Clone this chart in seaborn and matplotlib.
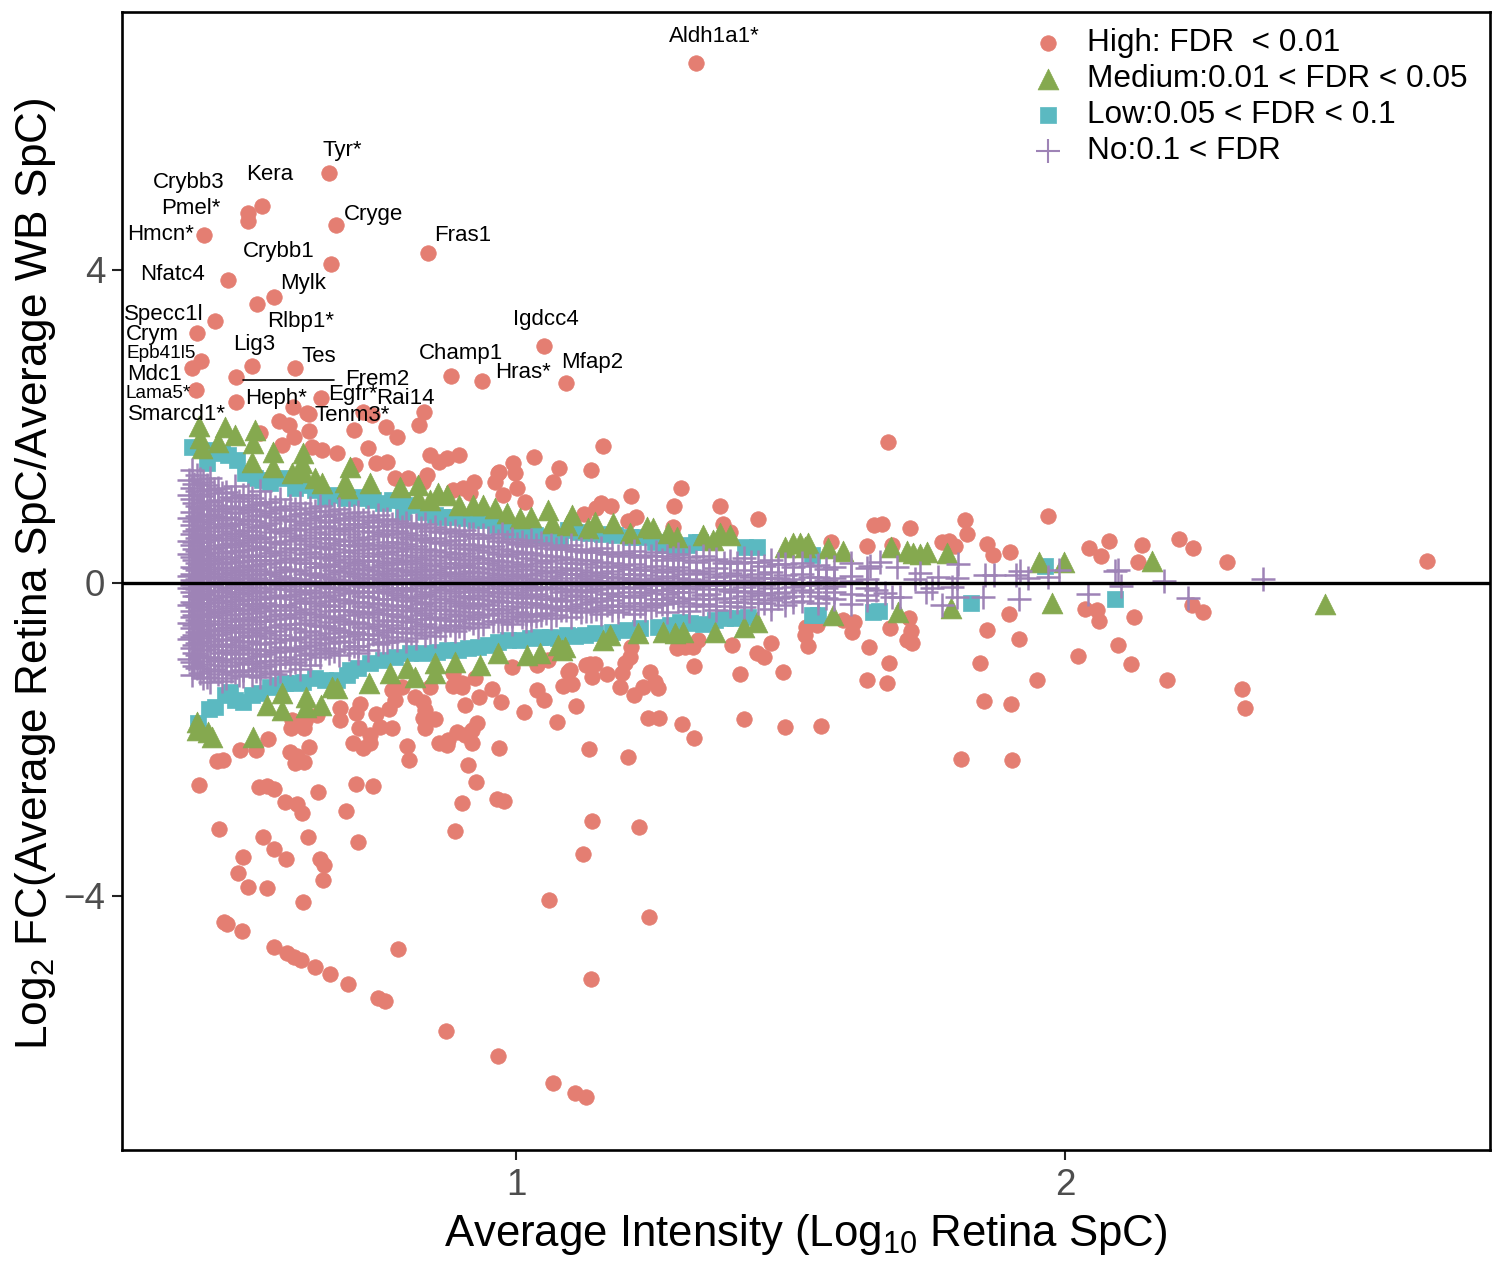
import pandas as pd
import matplotlib.pyplot as plt
import seaborn as sns

# values: x = log10 retina SpC, y = log2 FC
high_x = [1.328,.659,.537,.512,.512,.672,.432,.840,.663,.475,.559,.528,.452,.419,.426,.410,.417,.519,.597,.490,.490,1.051,.882,.938,1.091,.645,.594,.619,.623,.721,.738,.832,.823,.763,.783,.705,.623,.568,.587,.596,.574,.534,.730,.674,.647,.628,1.158,1.033,.843,.896,.874,.860,.765,.745,.707,.995,.969,1.078,1.137,1.067,.780,.803,.838,.831,.967,.998,.962,1.002,.976,1.016,.924,.904,.916,.885,1.301,1.209,1.288,1.372,1.441,1.155,1.173,1.146,1.124,1.204,1.219,1.377,1.390,1.286,1.652,1.667,1.718,1.574,1.639,1.685,1.776,1.789,1.800,1.678,1.818,1.822,1.969,1.858,1.869,1.900,2.044,2.066,2.080,2.140,2.133,2.208,2.233,2.295,2.659,
    1.528,1.548,1.526,1.532,1.596,1.616,1.612,1.681,1.716,1.719,1.712,1.721,1.643,1.679,1.639,1.676,1.393,1.464,1.439,1.452,1.486,1.408,1.324,1.332,1.322,1.308,1.293,1.209,1.207,1.198,1.193,1.189,1.166,1.135,1.144,1.127,1.138,1.098,1.102,1.086,1.244,1.231,1.253,1.259,1.215,1.109,1.240,1.261,1.302,1.415,1.490,1.556,1.324,2.036,2.058,2.062,2.126,2.232,2.251,1.898,1.858,1.916,2.024,2.097,2.120,1.845,2.186,1.949,1.852,1.902,2.322,2.328,1.811,1.903,
    1.038,1.051,1.015,1.075,1.204,1.133,1.138,1.224,1.122,1.060,1.242,1.137,.967,1.067,1.107,1.128,.872,.785,.761,.749,.694,.661,.634,.608,.596,.583,.559,.501,.474,.468,.612,.547,.512,.494,.503,.459,.539,.559,.581,.621,.643,.650,.648,.712,.690,.639,.708,.740,.610,.601,.579,.559,.547,.532,.423,.889,.902,.927,.913,.966,.978,.969,.805,.801,.920,.907,.929,.892,.876,.860,.874,.920,.907,.933,.956,.973,.902,.885,.852,.834,.831,.834,.831,.816,.792,.774,.780,.769,.774,.752,.745,.734,.714,.708,.716,.679,.679,.637,.616,.614,.590,.592,.703,.721,.734,.623,.588,.601,.597,.614,.548,.526,.497,.466,.455,1.059,1.039,.993,1.095,.902,.925,.885,.843]
high_y = [6.645,5.24,4.82,4.73,4.63,4.58,4.45,4.22,4.08,3.87,3.66,3.57,3.35,3.20,2.84,2.75,2.47,2.77,2.75,2.63,2.31,3.03,2.65,2.58,2.56,2.36,2.25,2.17,2.16,2.19,2.15,2.19,2.02,1.99,1.87,1.96,1.94,2.07,2.02,1.87,1.76,1.92,1.73,1.66,1.70,1.74,1.75,1.61,1.64,1.64,1.60,1.55,1.55,1.53,1.51,1.53,1.42,1.47,1.44,1.29,1.34,1.34,1.38,1.29,1.41,1.41,1.29,1.21,1.12,1.04,1.29,1.21,1.15,1.19,1.21,1.11,.98,.98,.82,1.02,.98,.96,.88,.79,.84,.75,.65,.72,.74,.75,.70,.52,.47,.49,.52,.54,.47,1.80,.81,.63,.86,.50,.36,.40,.45,.35,.54,.49,.27,.56,.45,.27,.28,
    -.56,-.54,-.66,-.81,-.47,-.50,-.63,-.58,-.45,-.61,-.73,-.77,-.82,-1.02,-1.24,-1.28,-.79,-.77,-.89,-.95,-1.14,-1.16,-1.06,-.73,-.82,-.82,-.83,-.82,-.95,-1.02,-1.15,-1.33,-1.16,-1.04,-1.04,-1.05,-1.20,-1.11,-1.29,-1.32,-1.14,-1.33,-1.27,-1.34,-1.43,-1.57,-1.73,-1.73,-1.80,-1.74,-1.84,-1.83,-1.98,-.33,-.35,-.49,-.43,-.28,-.37,-.40,-.60,-.72,-.93,-.79,-1.04,-1.02,-1.24,-1.24,-1.51,-1.55,-1.35,-1.60,-2.25,-2.26,
    -1.37,-1.50,-1.65,-1.78,-2.22,-2.12,-3.04,-3.12,-3.46,-4.05,-4.27,-5.06,-6.05,-6.39,-6.52,-6.57,-5.73,-4.68,-5.34,-5.30,-5.12,-5.00,-4.91,-4.82,-4.78,-4.73,-4.65,-4.45,-4.36,-4.33,-4.08,-3.90,-3.89,-3.71,-3.50,-3.14,-3.25,-3.40,-3.53,-3.25,-3.53,-3.60,-3.80,-3.31,-2.91,-2.67,-2.57,-2.59,-2.94,-2.82,-2.80,-2.63,-2.59,-2.61,-2.58,-3.17,-2.81,-2.54,-2.33,-2.76,-2.79,-2.11,-2.26,-2.08,-2.04,-1.94,-1.79,-1.90,-2.01,-2.04,-2.07,-1.88,-1.56,-1.46,-1.35,-1.52,-1.33,-1.32,-1.74,-1.85,-1.73,-1.62,-1.52,-1.46,-1.33,-1.37,-1.50,-1.61,-1.85,-1.84,-1.67,-1.94,-1.85,-1.66,-1.55,-1.60,-1.75,-1.69,-1.76,-1.85,-1.85,-1.75,-2.04,-2.11,-2.04,-2.10,-2.16,-2.21,-2.30,-2.29,-1.99,-2.13,-2.13,-2.26,-2.27,-.98,-1.05,-1.07,-1.14,-1.28,-1.21,-1.15,-1.33]

medium_x = [.423,.424,.470,.488,.525,.521,.457,.428,.557,.557,.519,.612,.610,.612,.592,.634,.647,.698,.689,.692,.734,.789,.822,.822,.843,.858,.874,.896,.922,.940,.962,.984,1.007,1.027,1.058,1.066,1.093,1.102,1.144,1.131,1.177,1.208,1.239,1.250,1.277,1.293,1.341,1.372,1.359,1.390,1.490,1.505,1.517,1.532,1.526,1.568,1.596,1.683,1.712,1.723,1.736,1.749,1.785,1.953,1.998,2.158,
    1.696,1.792,1.976,2.474,.732,.665,.674,.645,.617,.617,.574,.574,.547,.419,.419,.439,.446,.521,.771,.801,.816,.852,.852,.889,.934,.967,1.020,1.044,1.077,1.089,1.084,1.158,1.171,1.222,1.268,1.289,1.304,1.362,1.415,1.439,1.578]
medium_y = [2.01,1.85,1.99,1.89,1.96,1.79,1.80,1.73,1.67,1.48,1.55,1.66,1.53,1.42,1.41,1.34,1.28,1.48,1.29,1.21,1.28,1.23,1.25,1.09,1.06,1.15,1.12,1.00,1.00,1.00,.96,.89,.83,.84,.93,.77,.74,.87,.78,.70,.77,.64,.72,.70,.64,.59,.61,.64,.55,.61,.46,.51,.51,.51,.46,.45,.41,.46,.41,.38,.37,.40,.38,.27,.27,.28,
    -.37,-.32,-.26,-.27,-1.28,-1.33,-1.34,-1.56,-1.46,-1.58,-1.41,-1.62,-1.56,-1.78,-1.88,-1.90,-1.97,-1.97,-1.15,-1.09,-1.20,-1.02,-1.15,-1.01,-1.05,-.89,-.92,-.89,-.79,-.82,-.86,-.73,-.66,-.64,-.63,-.64,-.63,-.63,-.56,-.50,-.41]

low_x = [.410,.448,.437,.492,.506,.552,.579,.597,.616,.652,.689,.710,.740,.758,.792,.794,.867,.907,.944,1.013,1.080,1.095,1.157,1.230,1.253,1.299,1.328,1.335,1.417,1.439,1.539,1.964,
    .464,.475,.525,.537,.634,.667,.725,.774,.812,.834,.852,.883,.925,.962,.989,1.035,1.062,1.113,1.135,1.180,1.208,1.271,1.281,1.313,
    1.093,1.126,1.202,1.259,1.299,1.341,1.381,1.423,1.539,1.550,1.650,1.661,1.829,2.091,.441,.421,.470,.479,.503,.519,.552,.579,.612,.634,.674,.712,.734,.758,.807,.856,.913,.931,.967,1.007,1.044,1.077,
    .452,.488,.534,.566,.597,.652,.692,.698,.780,.829,.874,.894,.949,.985,1.026,1.062,1.107,1.144,1.175,1.226,1.281,1.317,1.362,1.399]
low_y = [1.74,1.70,1.53,1.57,1.41,1.28,1.34,1.21,1.25,1.09,1.09,1.10,1.06,1.02,1.06,.91,.84,.83,.81,.65,.58,.68,.63,.59,.52,.46,.52,.52,.46,.46,.36,.22,
    1.66,1.64,1.34,1.32,1.19,1.12,1.09,1.06,1.00,.91,.87,.84,.81,.74,.68,.61,.59,.65,.64,.61,.59,.49,.49,.49,
    -.66,-.66,-.60,-.56,-.50,-.52,-.45,-.43,-.41,-.41,-.37,-.36,-.26,-.20,-1.61,-1.79,-1.43,-1.39,-1.52,-1.43,-1.33,-1.28,-1.27,-1.21,-1.24,-1.09,-1.02,-.98,-.89,-.88,-.83,-.82,-.75,-.73,-.69,-.70,
    -1.58,-1.50,-1.41,-1.30,-1.28,-1.24,-1.18,-1.11,-.95,-.89,-.86,-.86,-.79,-.73,-.70,-.69,-.68,-.64,-.63,-.58,-.54,-.51,-.47,-.45]

# the crosses sit on discrete SpC columns, so one x per column
no_x = [.405,.410,.419,.430,.443,.457,.472,.488,.503,.519,.534,.552,.570,.588,.607,.625,.643,.660,.678,.695,.712,.730,.748,.765,.783,.800,.818,.835,.852,.870,.888,.905,.922,.940,.958,.975,.992,1.010,1.028,1.046,1.064,1.082,1.100,1.118,1.136,1.155,1.175,1.195,1.215,1.235,1.255,1.275,1.295,1.315,1.340,1.365,1.390,1.415,1.440,1.465,1.490,1.520,1.550,1.580,1.610,1.640]
no_y = [
    [1.31,1.12,.83,.54,.37,.09,-.06,-.28,-.51,-.72,-.97],
    [1.44,1.22,1.07,.91,.74,.62,.48,.33,.21,.12,.04,-.03,-.11,-.24,-.36,-.43,-.58,-.69,-.83,-1.01,-1.18],
    [1.38,1.17,.98,.86,.69,.57,.41,.26,.16,.05,-.08,-.17,-.31,-.47,-.62,-.77,-.92,-1.09],
    [1.29,1.11,.94,.78,.63,.52,.37,.23,.13,-.04,-.14,-.26,-.39,-.55,-.68,-.86,-1.03,-1.22],
    [1.34,1.19,1.03,.88,.71,.59,.44,.29,.18,.07,-.02,-.19,-.33,-.44,-.61,-.74,-.94,-1.12,-1.27],
    [1.21,1.06,.92,.81,.66,.49,.35,.24,.11,.03,-.09,-.22,-.37,-.52,-.65,-.81,-.99,-1.16],
    [1.16,.99,.84,.73,.58,.46,.31,.19,.08,-.05,-.16,-.29,-.41,-.57,-.71,-.88,-1.06,-1.21],
    [1.24,1.08,.89,.76,.64,.51,.39,.27,.14,.02,-.12,-.23,-.35,-.49,-.63,-.79,-.91,-1.14],
    [1.13,.97,.82,.68,.55,.42,.28,.17,.06,-.07,-.21,-.34,-.46,-.59,-.76,-.96,-1.11,-1.19],
    [1.09,.93,.79,.61,.47,.34,.22,.10,-.01,-.13,-.27,-.38,-.53,-.67,-.84,-1.02,-1.17],
    [1.18,1.01,.87,.72,.56,.43,.3,.15,.04,-.1,-.2,-.32,-.48,-.6,-.78,-.93,-1.08,-1.2],
    [1.04,.9,.77,.65,.53,.38,.25,.12,.03,-.06,-.18,-.3,-.42,-.56,-.7,-.85,-1.0,-1.15],
    [1.07,.95,.8,.67,.5,.36,.2,.09,-.03,-.15,-.28,-.4,-.54,-.66,-.82,-.98,-1.13],
    [.98,.85,.7,.6,.45,.32,.18,.07,-.08,-.17,-.31,-.45,-.58,-.73,-.87,-1.04],
    [1.02,.88,.74,.57,.44,.29,.16,.05,-.04,-.14,-.25,-.39,-.52,-.69,-.83,-.97,-1.1],
    [.96,.83,.69,.54,.4,.26,.13,.02,-.09,-.19,-.33,-.47,-.61,-.75,-.9,-1.05],
    [.99,.86,.71,.58,.46,.33,.21,.08,-.02,-.16,-.29,-.43,-.55,-.72,-.86,-.95],
    [.92,.78,.63,.51,.37,.24,.11,.01,-.11,-.23,-.36,-.5,-.64,-.77,-.89],
    [.94,.81,.66,.49,.35,.22,.14,.04,-.07,-.2,-.34,-.46,-.6,-.74,-.92],
    [.89,.75,.62,.48,.31,.19,.09,-.03,-.13,-.26,-.41,-.53,-.68,-.84],
    [.91,.76,.59,.47,.34,.23,.12,.02,-.1,-.24,-.37,-.51,-.65,-.8,-.9],
    [.84,.72,.56,.43,.3,.17,.06,-.05,-.18,-.31,-.44,-.57,-.71,-.85],
    [.87,.73,.6,.45,.28,.15,.07,-.04,-.12,-.27,-.4,-.55,-.67,-.78],
    [.82,.68,.52,.39,.25,.13,.03,-.08,-.21,-.33,-.48,-.62,-.76],
    [.79,.66,.53,.41,.27,.16,.05,-.06,-.15,-.29,-.42,-.58,-.73],
    [.77,.64,.5,.36,.24,.1,.01,-.09,-.22,-.35,-.49,-.63,-.74],
    [.74,.61,.47,.33,.2,.12,.04,-.07,-.19,-.32,-.46,-.59,-.7],
    [.76,.58,.44,.31,.18,.08,-.02,-.14,-.26,-.38,-.52,-.66],
    [.71,.57,.42,.29,.17,.06,-.05,-.17,-.3,-.43,-.56,-.68],
    [.69,.54,.4,.26,.14,.03,-.08,-.2,-.34,-.47,-.6],
    [.66,.55,.37,.25,.11,.02,-.1,-.23,-.36,-.49,-.61],
    [.68,.5,.38,.23,.13,.04,-.06,-.16,-.28,-.41,-.57],
    [.63,.49,.34,.21,.09,-.01,-.12,-.25,-.37,-.51],
    [.61,.46,.32,.19,.07,-.03,-.15,-.27,-.39,-.53],
    [.59,.47,.3,.18,.08,.01,-.11,-.22,-.33,-.48],
    [.62,.43,.28,.16,.05,-.04,-.13,-.24,-.38,-.5],
    [.56,.41,.27,.15,.06,-.02,-.14,-.29,-.42,-.52],
    [.53,.39,.24,.12,.03,-.07,-.19,-.31,-.44],
    [.55,.38,.22,.1,.01,-.09,-.18,-.26,-.4,-.47],
    [.51,.36,.25,.13,.04,-.05,-.16,-.28,-.41],
    [.48,.34,.2,.09,.02,-.06,-.21,-.32,-.45],
    [.46,.33,.17,.07,-.03,-.12,-.23,-.35],
    [.49,.31,.19,.11,.01,-.08,-.15,-.3,-.43],
    [.44,.29,.16,.06,-.04,-.17,-.27,-.37],
    [.42,.3,.14,.05,-.02,-.1,-.24,-.36],
    [.45,.27,.13,.03,-.06,-.19,-.31,-.39],
    [.4,.26,.15,.08,-.01,-.13,-.22,-.34],
    [.38,.23,.11,.02,-.07,-.16,-.29],
    [.41,.24,.12,.04,-.05,-.18,-.33,-.4],
    [.36,.21,.1,-.03,-.11,-.25,-.35],
    [.39,.22,.07,.01,-.09,-.2,-.28],
    [.34,.18,.09,-.02,-.14,-.26,-.37],
    [.37,.2,.06,-.04,-.12,-.23],
    [.33,.17,.05,-.06,-.19,-.3,-.36],
    [.35,.15,.03,-.08,-.15,-.27],
    [.31,.19,.08,-.03,-.21,-.34],
    [.28,.13,.02,-.1,-.24,-.29],
    [.32,.16,.04,-.05,-.17,-.31],
    [.27,.11,-.01,-.13,-.26],
    [.29,.14,.06,-.07,-.22,-.33],
    [.24,.1,.03,-.11,-.18,-.28],
    [.26,.12,-.02,-.09,-.23],
    [.23,.08,.01,-.16,-.25],
    [.21,.07,-.04,-.12,-.2],
    [.25,.09,.02,-.14,-.27],
    [.19,.05,-.06,-.15,-.22],
]
# second run of columns, the ones between the above
no2_x = [.414,.425,.437,.450,.465,.480,.496,.511,.527,.543,.561,.579,.598,.616,.634,.652,.669,.687,.704,.721,.739,.757,.774,.792,.809,.827,.844,.861,.879,.897,.914,.931,.949,.967,.984,1.001,1.019,1.037,1.055,1.073,1.091,1.109,1.127,1.146,1.165,1.185,1.205,1.225,1.245,1.265,1.285,1.305,1.328,1.352,1.378,1.402,1.428,1.452,1.478,1.505,1.535,1.565]
no2_y = [
    [1.27,1.02,.79,.67,.52,.43,.3,.19,.1,.01,-.07,-.16,-.27,-.41,-.54,-.66,-.79,-.89,-1.06],
    [1.33,1.14,.96,.82,.6,.47,.36,.24,.07,-.01,-.13,-.21,-.35,-.5,-.64,-.75,-.95,-1.15],
    [1.25,1.05,.87,.72,.56,.4,.28,.15,.06,-.1,-.2,-.3,-.42,-.59,-.7,-.84,-1.0,-1.2],
    [1.2,1.0,.85,.75,.61,.45,.32,.2,.09,0.0,-.15,-.25,-.38,-.53,-.67,-.8,-.96,-1.1],
    [1.15,.95,.83,.7,.55,.38,.26,.13,.01,-.11,-.24,-.36,-.48,-.6,-.78,-.9,-1.05,-1.25],
    [1.1,.96,.77,.62,.5,.41,.27,.16,.05,-.06,-.18,-.32,-.45,-.56,-.73,-.85,-1.01,-1.13],
    [1.05,.91,.75,.6,.48,.33,.21,.1,-.02,-.14,-.27,-.4,-.54,-.69,-.82,-.97,-1.18],
    [1.12,.94,.8,.66,.53,.36,.23,.12,.01,-.09,-.22,-.33,-.47,-.62,-.74,-.89,-1.04],
    [1.0,.86,.71,.57,.44,.3,.18,.07,-.05,-.17,-.29,-.43,-.57,-.68,-.86,-1.0,-1.12],
    [1.03,.92,.74,.59,.46,.35,.24,.11,.02,-.12,-.25,-.36,-.49,-.64,-.77,-.91,-1.06],
    [.97,.84,.69,.52,.41,.29,.14,.04,-.08,-.19,-.34,-.46,-.61,-.75,-.88,-1.03,-1.16],
    [.93,.82,.64,.54,.39,.27,.17,.06,-.04,-.16,-.28,-.41,-.52,-.71,-.83,-.94],
    [.95,.79,.68,.55,.43,.31,.15,.03,-.1,-.21,-.35,-.44,-.59,-.72,-.86,-1.01],
    [.9,.77,.61,.5,.37,.25,.12,.0,-.12,-.23,-.37,-.51,-.63,-.8,-.92],
    [.92,.8,.65,.47,.33,.2,.1,-.02,-.13,-.26,-.39,-.54,-.66,-.79,-.91],
    [.86,.73,.58,.45,.32,.22,.08,-.05,-.18,-.28,-.42,-.55,-.7,-.83],
    [.88,.7,.56,.44,.29,.16,.05,-.06,-.15,-.3,-.43,-.58,-.69,-.87],
    [.83,.69,.54,.4,.27,.15,.03,-.09,-.22,-.35,-.48,-.62,-.76],
    [.85,.71,.55,.42,.26,.13,.02,-.11,-.24,-.36,-.5,-.63,-.81],
    [.8,.67,.51,.38,.28,.18,.06,-.04,-.16,-.29,-.4,-.56,-.72],
    [.78,.65,.49,.35,.21,.1,0.0,-.12,-.25,-.37,-.52,-.65],
    [.81,.63,.48,.37,.23,.11,.04,-.1,-.2,-.34,-.47,-.6,-.75],
    [.75,.62,.46,.32,.19,.09,-.01,-.13,-.28,-.39,-.54,-.69],
    [.72,.59,.45,.3,.16,.05,-.07,-.18,-.3,-.44,-.57],
    [.73,.56,.43,.28,.14,.02,-.1,-.23,-.36,-.5,-.64],
    [.7,.55,.39,.26,.15,.07,-.03,-.16,-.27,-.41,-.55],
    [.67,.52,.36,.23,.1,.0,-.11,-.24,-.35,-.46,-.62],
    [.65,.51,.35,.22,.12,.03,-.09,-.21,-.33,-.45,-.58],
    [.64,.48,.33,.19,.09,-.02,-.13,-.26,-.4,-.54],
    [.6,.45,.31,.2,.06,-.04,-.16,-.29,-.42,-.55],
    [.62,.44,.29,.15,.05,-.07,-.19,-.32,-.46],
    [.57,.42,.26,.14,.02,-.09,-.2,-.3,-.43,-.56],
    [.58,.4,.25,.13,.04,-.06,-.17,-.28,-.41],
    [.54,.37,.23,.1,.0,-.11,-.23,-.35,-.49],
    [.52,.35,.21,.11,.03,-.08,-.18,-.33,-.46],
    [.5,.37,.22,.09,-.01,-.12,-.24,-.37],
    [.47,.32,.18,.07,-.03,-.15,-.26,-.39,-.48],
    [.49,.3,.17,.05,-.05,-.14,-.27,-.42],
    [.45,.28,.15,.04,-.08,-.2,-.31,-.38],
    [.43,.29,.14,.02,-.07,-.19,-.29,-.41],
    [.44,.26,.11,.0,-.1,-.22,-.34],
    [.41,.25,.12,.03,-.09,-.16,-.32],
    [.39,.24,.09,-.01,-.11,-.21,-.36],
    [.4,.21,.1,.02,-.08,-.23,-.33],
    [.37,.22,.08,-.03,-.14,-.28],
    [.35,.2,.06,-.05,-.17,-.3,-.37],
    [.36,.18,.07,.0,-.12,-.26],
    [.33,.17,.04,-.07,-.15,-.29],
    [.34,.16,.05,-.02,-.13,-.31],
    [.3,.14,.03,-.09,-.2,-.27],
    [.32,.15,.02,-.06,-.18],
    [.29,.12,.01,-.11,-.25],
    [.27,.13,.04,-.04,-.21],
    [.3,.11,-.03,-.14,-.29],
    [.26,.09,.02,-.08,-.19],
    [.25,.1,-.01,-.12,-.24],
    [.27,.08,.03,-.1,-.21],
    [.22,.06,-.03,-.15,-.26],
    [.24,.07,.01,-.13,-.19],
    [.2,.05,-.05,-.17,-.24],
    [.22,.08,-.02,-.11],
    [.18,.04,-.07,-.19],
]
# sparse crosses at the high intensity end
sparse_x = [2.361,2.180,2.224,2.102,2.091,2.096,2.042,1.916,1.851,1.969,1.989,1.918,1.933,1.911,1.871,1.854,1.805,1.803,1.794,1.776,1.803,1.769,1.758,1.736,1.694,1.663,1.645,1.685,1.699,1.672,1.655,1.726,1.747]
sparse_y = [.05,.03,-.19,-.04,.15,.17,-.14,-.20,-.18,.08,.17,.15,.06,.10,.10,.10,.24,.06,-.05,-.28,-.18,.08,-.06,.13,.20,.27,.22,-.18,-.18,-.13,-.09,.05,-.11]

# gene labels: name, x, y
gene_names = ['Aldh1a1*','Tyr*','Kera','Crybb3','Pmel*','Hmcn*','Cryge','Fras1','Crybb1','Nfatc4','Mylk','Specc1l','Rlbp1*','Crym','Igdcc4','Lig3','Champ1','Tes','Mfap2','Hras*','Mdc1','Frem2','Egfr*','Rai14','Heph*','Smarcd1*','Tenm3*']
gene_x = [1.362,.683,.552,.403,.408,.353,.740,.903,.568,.375,.612,.359,.607,.337,1.055,.523,.900,.641,1.139,1.013,.341,.747,.703,.798,.563,.383,.701]
gene_y = [6.98,5.53,5.22,5.12,4.79,4.45,4.71,4.44,4.24,3.94,3.83,3.43,3.34,3.17,3.37,3.05,2.93,2.89,2.82,2.69,2.66,2.60,2.41,2.36,2.36,2.15,2.14]
small_names = ['Epb41l5','Lama5*']
small_x = [.353,.348]
small_y = [2.93,2.42]

RED, GREEN, TEAL, PURPLE = '#E47E72', '#85A94F', '#5BB9C1', '#9E83B6'

sns.set_theme(style='ticks')
plt.rcParams['font.family'] = ['Liberation Sans', 'DejaVu Sans']
plt.rcParams['mathtext.default'] = 'regular'
plt.rcParams['mathtext.fontset'] = 'custom'
plt.rcParams['mathtext.rm'] = 'Liberation Sans'

df_high = pd.DataFrame({'x': high_x, 'y': high_y})
df_medium = pd.DataFrame({'x': medium_x, 'y': medium_y})
df_low = pd.DataFrame({'x': low_x, 'y': low_y})
df_no = pd.DataFrame({'x': no_x, 'y': no_y}).explode('y').astype(float)
df_no2 = pd.DataFrame({'x': no2_x, 'y': no2_y}).explode('y').astype(float)
df_no = pd.concat([df_no, df_no2, pd.DataFrame({'x': sparse_x, 'y': sparse_y})])

fig = plt.figure(figsize=(15, 12.66), dpi=100)
ax = fig.add_axes([122 / 1500, 116 / 1266, 1368 / 1500, 1138 / 1266])

sns.scatterplot(data=df_high, x='x', y='y', marker='o', s=125, color=RED, edgecolor=RED, linewidth=0.5, ax=ax, label='High: FDR  < 0.01')
sns.scatterplot(data=df_low, x='x', y='y', marker='s', s=135, color=TEAL, edgecolor=TEAL, linewidth=0.5, ax=ax, label='Low:0.05 < FDR < 0.1')
sns.scatterplot(data=df_medium, x='x', y='y', marker='^', s=225, color=GREEN, edgecolor=GREEN, linewidth=0.5, ax=ax, label='Medium:0.01 < FDR < 0.05')
sns.scatterplot(data=df_no, x='x', y='y', marker='+', s=300, color=PURPLE, linewidth=1.8, ax=ax, label='No:0.1 < FDR')

ax.axhline(0, color='black', linewidth=2.4, zorder=5)
ax.plot([.503, .668], [2.594, 2.594], color='black', linewidth=1.2)

for name, gx, gy in zip(gene_names, gene_x, gene_y):
    ax.text(gx, gy, name, fontsize=16, ha='center', va='center', color='black', zorder=6)
for name, gx, gy in zip(small_names, small_x, small_y):
    ax.text(gx, gy, name, fontsize=13.7, ha='center', va='center', color='black', zorder=6)

ax.set_xlim(.2823, 2.774)
ax.set_ylim(-7.246, 7.297)
ax.set_xticks([1, 2])
ax.set_yticks([-4, 0, 4])
ax.set_yticklabels(['\u22124', '0', '4'])
ax.tick_params(axis='both', labelsize=26.5, labelcolor='#4D4D4D', color='#222222', length=7, width=1.5)
ax.tick_params(axis='x', pad=6)
ax.tick_params(axis='y', pad=5)
ax.set_xlabel('Average Intensity (Log$_{10}$ Retina SpC)', fontsize=31.5, color='black', labelpad=6.5)
ax.set_ylabel('Log$_{2}$ FC(Average Retina SpC/Average WB SpC)', fontsize=31.8, color='black')
ax.yaxis.set_label_coords(-.047, .506)
for side in ax.spines.values():
    side.set_linewidth(1.9)
    side.set_color('black')

handles, labels = ax.get_legend_handles_labels()
order = [0, 2, 1, 3]
leg = ax.legend([handles[i] for i in order], [labels[i] for i in order], frameon=False, fontsize=22.7,
                loc='upper right', bbox_to_anchor=(1.0, 1.005), labelspacing=0.185, handletextpad=0.25,
                borderaxespad=0.3, labelcolor='black')
leg.legend_handles[3].set_linewidth(1.5)

plt.savefig('out.png', dpi=100)
